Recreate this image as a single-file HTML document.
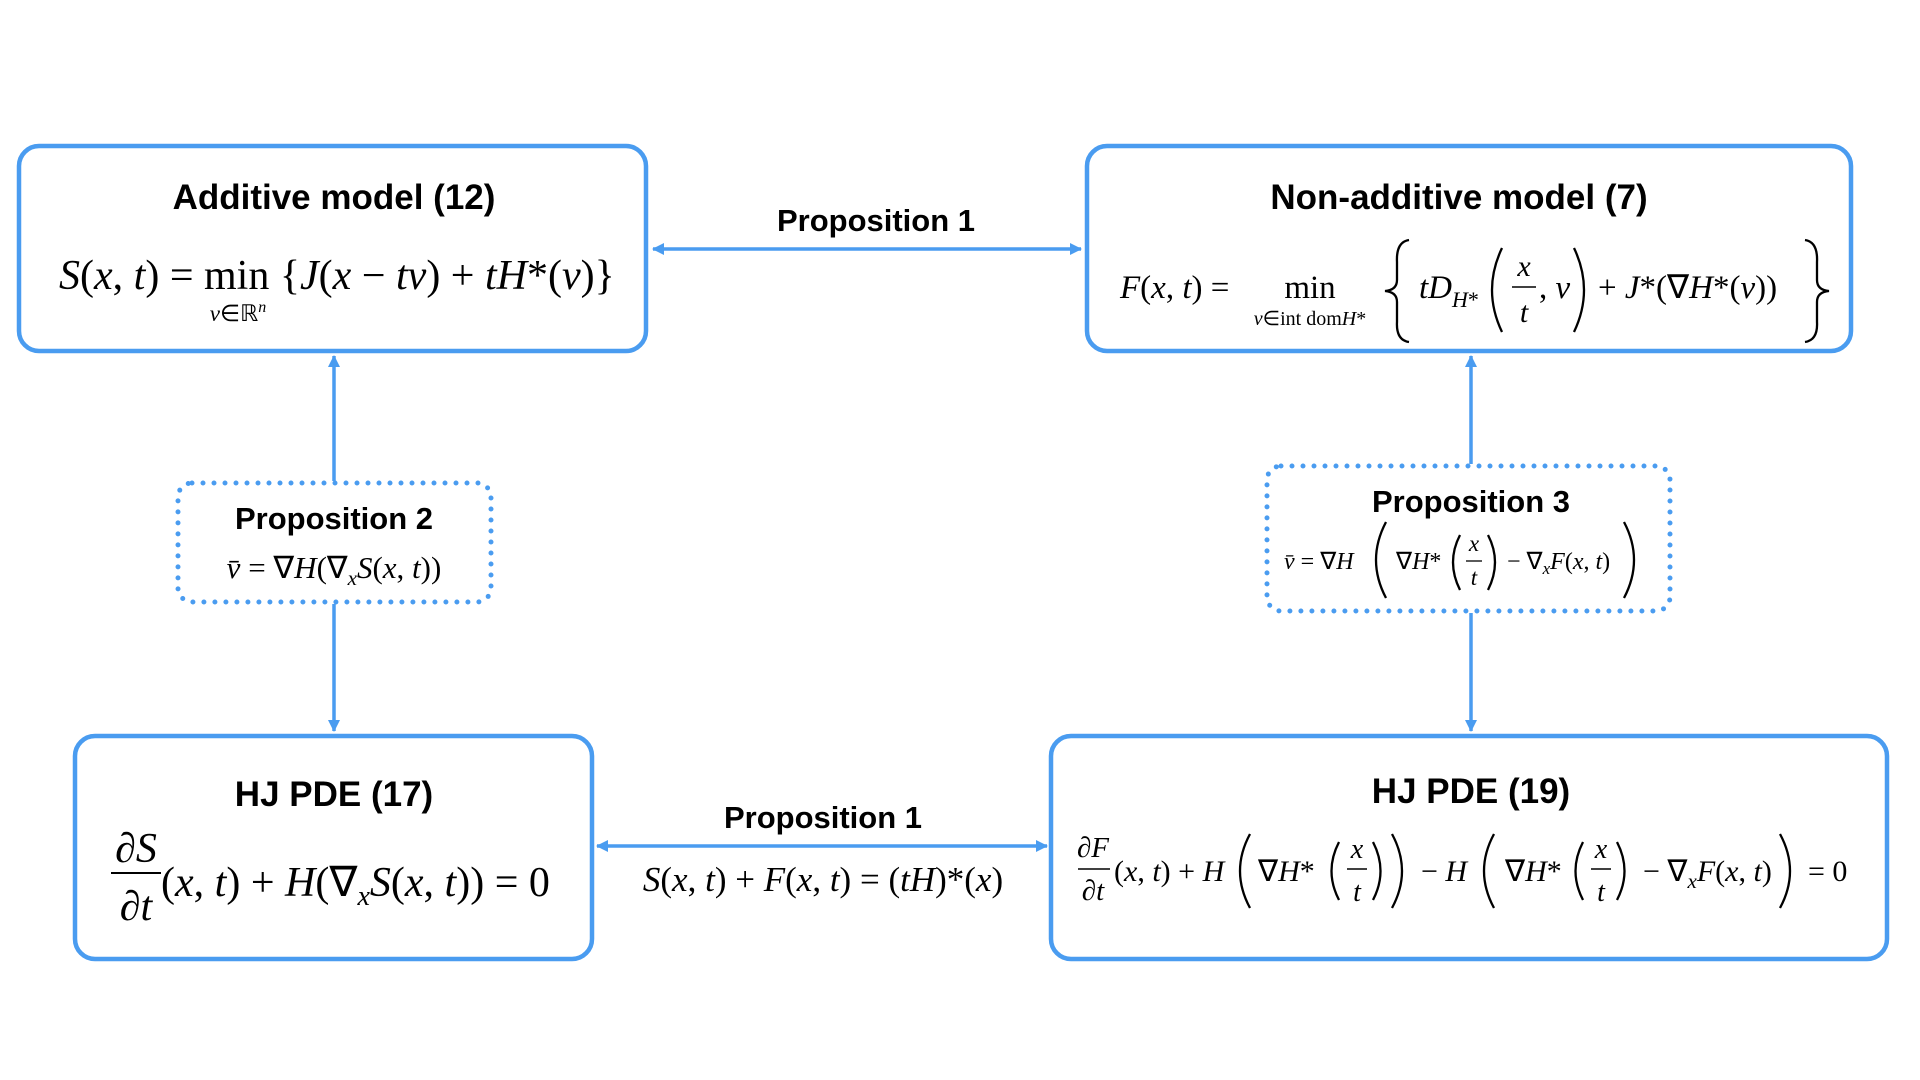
<!DOCTYPE html>
<html><head><meta charset="utf-8"><style>
html,body{margin:0;padding:0;background:#fff;}
svg{display:block}
.t{font-family:"Liberation Sans",sans-serif;font-weight:bold;fill:#000;text-anchor:middle}
.m{font-family:"Liberation Serif",serif;fill:#000}
.i{font-style:italic}
.p{fill:none;stroke:#000;stroke-width:2.3}
</style></head><body>
<svg width="1920" height="1080" viewBox="0 0 1920 1080" xmlns="http://www.w3.org/2000/svg">
<defs>
<marker id="ah" markerWidth="12" markerHeight="12" refX="11" refY="6" orient="auto-start-reverse" markerUnits="userSpaceOnUse">
<path d="M0,0 L12,6 L0,12 Z" fill="#4a9cf0"/>
</marker>
</defs>
<g fill="none" stroke="#4a9cf0" stroke-width="4.5">
<rect x="19" y="146" width="627" height="205" rx="20"/>
<rect x="75" y="736" width="517" height="223" rx="20"/>
<rect x="178" y="483" width="313" height="119" rx="14" stroke-dasharray="0 11" stroke-linecap="round" stroke-width="5"/>
</g>
<g stroke="#4a9cf0" stroke-width="3.5" fill="none">
<line x1="653" y1="249" x2="1081" y2="249" marker-start="url(#ah)" marker-end="url(#ah)"/>
<line x1="597" y1="846" x2="1047" y2="846" marker-start="url(#ah)" marker-end="url(#ah)"/>
<line x1="334" y1="481" x2="334" y2="356" marker-end="url(#ah)"/>
<line x1="334" y1="604" x2="334" y2="731" marker-end="url(#ah)"/>
</g>

<text class="t" x="334" y="209" font-size="35">Additive model (12)</text>
<text class="t" x="334" y="806" font-size="35">HJ PDE (17)</text>
<text class="t" x="334" y="529" font-size="31">Proposition 2</text>
<text class="t" x="876" y="231" font-size="31">Proposition 1</text>
<text class="t" x="823" y="828" font-size="31">Proposition 1</text>

<!-- Box A formula -->
<text class="m" x="59" y="289" font-size="42"><tspan class="i">S</tspan>(<tspan class="i">x</tspan>, <tspan class="i">t</tspan>) = min {<tspan class="i">J</tspan>(<tspan class="i">x</tspan> − <tspan class="i">tv</tspan>) + <tspan class="i">tH</tspan>*(<tspan class="i">v</tspan>)}</text>
<text class="m" x="238" y="321" font-size="23" text-anchor="middle"><tspan class="i">v</tspan>∈ℝ<tspan class="i" font-size="16" dy="-9">n</tspan></text>

<!-- Box C formula -->
<text class="m i" x="136" y="862" font-size="42" text-anchor="middle">∂S</text>
<line x1="111" y1="873" x2="161" y2="873" stroke="#000" stroke-width="2"/>
<text class="m i" x="136" y="920" font-size="42" text-anchor="middle">∂t</text>
<text class="m" x="161" y="896" font-size="42">(<tspan class="i">x</tspan>, <tspan class="i">t</tspan>) + <tspan class="i">H</tspan>(∇<tspan class="i" font-size="28" dy="9">x</tspan><tspan class="i" dy="-9">S</tspan>(<tspan class="i">x</tspan>, <tspan class="i">t</tspan>)) = 0</text>

<!-- P2 formula -->
<text class="m" x="334" y="578" font-size="31" text-anchor="middle"><tspan class="i">v̄</tspan> = ∇<tspan class="i">H</tspan>(∇<tspan class="i" font-size="21" dy="7">x</tspan><tspan class="i" dy="-7">S</tspan>(<tspan class="i">x</tspan>, <tspan class="i">t</tspan>))</text>

<!-- bottom arrow formula -->
<text class="m" x="823" y="891" font-size="35" text-anchor="middle"><tspan class="i">S</tspan>(<tspan class="i">x</tspan>, <tspan class="i">t</tspan>) + <tspan class="i">F</tspan>(<tspan class="i">x</tspan>, <tspan class="i">t</tspan>) = (<tspan class="i">tH</tspan>)*(<tspan class="i">x</tspan>)</text>

<g transform="translate(-6,0)">
<g fill="none" stroke="#4a9cf0" stroke-width="4.5">
<rect x="1093" y="146" width="764" height="205" rx="20"/>
<rect x="1057" y="736" width="836" height="223" rx="20"/>
<rect x="1273" y="466" width="403" height="145" rx="14" stroke-dasharray="0 11" stroke-linecap="round" stroke-width="5"/>
</g>
<g stroke="#4a9cf0" stroke-width="3.5" fill="none">
<line x1="1477" y1="464" x2="1477" y2="356" marker-end="url(#ah)"/>
<line x1="1477" y1="613" x2="1477" y2="731" marker-end="url(#ah)"/>
</g>
<text class="t" x="1465" y="209" font-size="35">Non-additive model (7)</text>
<text class="t" x="1477" y="803" font-size="35">HJ PDE (19)</text>
<text class="t" x="1477" y="512" font-size="31">Proposition 3</text>

<!-- Box B formula -->
<text class="m" x="1126" y="298" font-size="33"><tspan class="i">F</tspan>(<tspan class="i">x</tspan>, <tspan class="i">t</tspan>) =</text>
<text class="m" x="1316" y="298" font-size="33" text-anchor="middle">min</text>
<text class="m" x="1316" y="325" font-size="20" text-anchor="middle"><tspan class="i">v</tspan>∈int dom<tspan class="i">H</tspan>*</text>
<path class="p" d="M1415,240 Q1402,242 1403,262 L1403,280 Q1403,290 1391,291 Q1403,292 1403,302 L1403,322 Q1402,340 1415,342"/>
<text class="m" x="1425" y="298" font-size="33"><tspan class="i">tD</tspan><tspan class="i" font-size="22" dy="9">H</tspan><tspan font-size="22">*</tspan></text>
<path class="p" d="M1508,248 Q1488,290 1508,332"/>
<text class="m i" x="1530" y="276" font-size="30" text-anchor="middle">x</text>
<line x1="1518" y1="287" x2="1542" y2="287" stroke="#000" stroke-width="1.5"/>
<text class="m i" x="1530" y="322" font-size="30" text-anchor="middle">t</text>
<text class="m" x="1545" y="298" font-size="33">, <tspan class="i">v</tspan></text>
<path class="p" d="M1580,248 Q1600,290 1580,332"/>
<text class="m" x="1604" y="298" font-size="33">+ <tspan class="i">J</tspan>*(∇<tspan class="i">H</tspan>*(<tspan class="i">v</tspan>))</text>
<path class="p" d="M1811,240 Q1824,242 1823,262 L1823,280 Q1823,290 1835,291 Q1823,292 1823,302 L1823,322 Q1824,340 1811,342"/>

<!-- Box D formula -->
<text class="m i" x="1099" y="857" font-size="29" text-anchor="middle">∂F</text>
<line x1="1084" y1="869" x2="1116" y2="869" stroke="#000" stroke-width="1.5"/>
<text class="m i" x="1099" y="900" font-size="29" text-anchor="middle">∂t</text>
<text class="m" x="1120" y="881" font-size="30">(<tspan class="i">x</tspan>, <tspan class="i">t</tspan>) + <tspan class="i">H</tspan></text>
<path class="p" d="M1256,834 Q1236,871 1256,908"/>
<text class="m" x="1264" y="881" font-size="30">∇<tspan class="i">H</tspan>*</text>
<path class="p" d="M1345,842 Q1330,871 1345,900"/>
<text class="m i" x="1363" y="858" font-size="28" text-anchor="middle">x</text>
<line x1="1353" y1="869" x2="1373" y2="869" stroke="#000" stroke-width="1.5"/>
<text class="m i" x="1363" y="901" font-size="28" text-anchor="middle">t</text>
<path class="p" d="M1379,842 Q1394,871 1379,900"/>
<path class="p" d="M1398,834 Q1418,871 1398,908"/>
<text class="m" x="1427" y="881" font-size="30">− <tspan class="i">H</tspan></text>
<path class="p" d="M1500,834 Q1480,871 1500,908"/>
<text class="m" x="1511" y="881" font-size="30">∇<tspan class="i">H</tspan>*</text>
<path class="p" d="M1589,842 Q1574,871 1589,900"/>
<text class="m i" x="1607" y="858" font-size="28" text-anchor="middle">x</text>
<line x1="1597" y1="869" x2="1617" y2="869" stroke="#000" stroke-width="1.5"/>
<text class="m i" x="1607" y="901" font-size="28" text-anchor="middle">t</text>
<path class="p" d="M1623,842 Q1638,871 1623,900"/>
<text class="m" x="1649" y="881" font-size="30">− ∇<tspan class="i" font-size="21" dy="7">x</tspan><tspan class="i" dy="-7">F</tspan>(<tspan class="i">x</tspan>, <tspan class="i">t</tspan>)</text>
<path class="p" d="M1786,834 Q1806,871 1786,908"/>
<text class="m" x="1814" y="881" font-size="30">= 0</text>

<!-- P3 formula -->
<text class="m" x="1290" y="569" font-size="24"><tspan class="i">v̄</tspan> = ∇<tspan class="i">H</tspan></text>
<path class="p" d="M1392,522 Q1372,560 1392,598"/>
<text class="m" x="1402" y="569" font-size="24">∇<tspan class="i">H</tspan>*</text>
<path class="p" d="M1466,535 Q1452,562 1466,590"/>
<text class="m i" x="1480" y="551" font-size="23" text-anchor="middle">x</text>
<line x1="1472" y1="561" x2="1488" y2="561" stroke="#000" stroke-width="1.3"/>
<text class="m i" x="1480" y="585" font-size="23" text-anchor="middle">t</text>
<path class="p" d="M1494,535 Q1508,562 1494,590"/>
<text class="m" x="1513" y="569" font-size="24">− ∇<tspan class="i" font-size="17" dy="5">x</tspan><tspan class="i" dy="-5">F</tspan>(<tspan class="i">x</tspan>, <tspan class="i">t</tspan>)</text>
<path class="p" d="M1630,522 Q1650,560 1630,598"/>
</g>
</svg>
</body></html>
